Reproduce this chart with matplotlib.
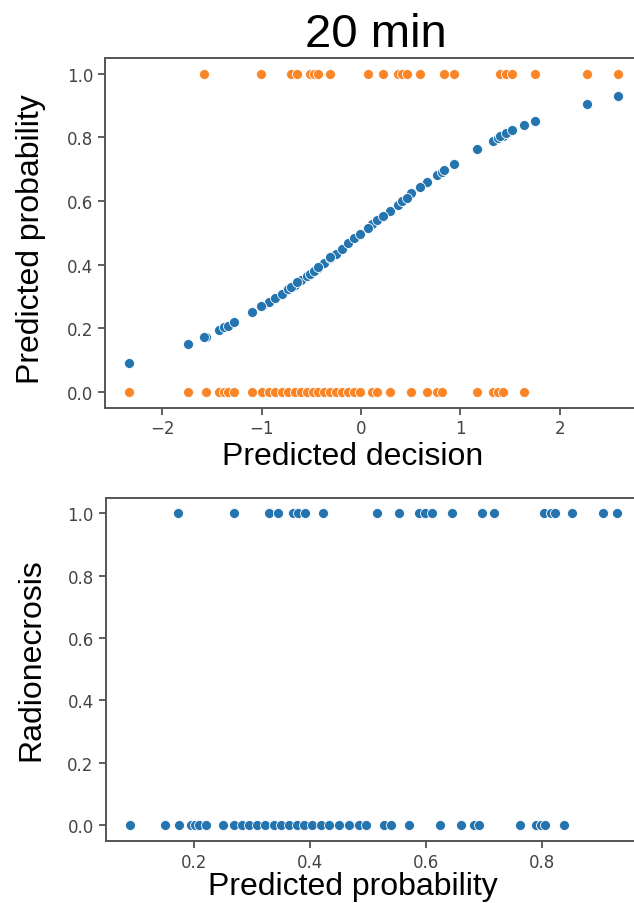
import matplotlib
matplotlib.use("Agg")
import matplotlib.pyplot as plt

# ---- data ----
# points with Radionecrosis = 0
decision_0 = [-2.33, -1.74, -1.56, -1.43, -1.38, -1.34, -1.28, -1.10, -1.00, -0.93,
              -0.87, -0.80, -0.73, -0.66, -0.60, -0.54, -0.48, -0.43, -0.37, -0.31,
              -0.25, -0.19, -0.13, -0.07, -0.01, 0.11, 0.16, 0.29, 0.50, 0.66,
              0.76, 0.81, 1.17, 1.33, 1.38, 1.43, 1.64]
prob_0 = [0.089, 0.150, 0.173, 0.194, 0.202, 0.208, 0.220, 0.249, 0.268, 0.283,
          0.295, 0.308, 0.322, 0.337, 0.350, 0.363, 0.377, 0.389, 0.404, 0.419,
          0.432, 0.450, 0.468, 0.484, 0.497, 0.528, 0.540, 0.570, 0.624, 0.660,
          0.683, 0.692, 0.763, 0.790, 0.798, 0.806, 0.838]
# points with Radionecrosis = 1
decision_1 = [-1.58, -1.01, -0.70, -0.64, -0.51, -0.47, -0.43, -0.31, 0.07, 0.22,
              0.37, 0.41, 0.46, 0.59, 0.83, 0.93, 1.40, 1.46, 1.52, 1.75, 2.27, 2.58]
prob_1 = [0.172, 0.268, 0.330, 0.344, 0.371, 0.380, 0.392, 0.423, 0.516, 0.553,
          0.588, 0.599, 0.610, 0.645, 0.697, 0.717, 0.804, 0.815, 0.823, 0.852,
          0.906, 0.930]

decision = decision_0 + decision_1
probability = prob_0 + prob_1
label = [0] * len(decision_0) + [1] * len(decision_1)

yticks = [0.0, 0.2, 0.4, 0.6, 0.8, 1.0]

W, H = 634, 904
fig = plt.figure(figsize=(W / 100, H / 100), dpi=100)

def frac(x0, y0, x1, y1):
    return [x0 / W, 1 - y1 / H, (x1 - x0) / W, (y1 - y0) / H]

blue = "#2474b0"
orange = "#fa8526"
mk = dict(s=52, edgecolors="white", linewidths=0.6, zorder=3)

ax1 = fig.add_axes(frac(105, 59, 642, 408.5))
ax1.scatter(decision, probability, color=blue, **mk)
ax1.scatter(decision, label, color=orange, **mk)
ax1.set_yticks(yticks)

ax2 = fig.add_axes(frac(105.5, 498.7, 641.5, 841.7))
ax2.scatter(probability, label, color=blue, **mk)
ax2.set_yticks(yticks)
ax2.set_xticks([0.2, 0.4, 0.6, 0.8])

for ax in (ax1, ax2):
    for sp in ax.spines.values():
        sp.set_color("#555555")
        sp.set_linewidth(1.4)
    ax.spines["right"].set_visible(False)
    ax.tick_params(labelsize=12, colors="#444444", length=5, width=1.2,
                   labelcolor="#444444")

font = ["Liberation Sans", "DejaVu Sans"]
fig.text(376 / W, 1 - 47 / H, "20 min", family=font, fontsize=34,
         ha="center", va="baseline")
fig.text(353 / W, 1 - 465 / H, "Predicted decision", family=font, fontsize=23,
         ha="center", va="baseline")
fig.text(353 / W, 1 - 895 / H, "Predicted probability", family=font, fontsize=23,
         ha="center", va="baseline")
fig.text(31 / W, 1 - 239 / H, "Predicted probability", family=font, fontsize=23,
         ha="center", va="center", rotation=90)
fig.text(31 / W, 1 - 660 / H, "Radionecrosis", family=font, fontsize=23,
         ha="center", va="center", rotation=90)

fig.savefig("out.png", dpi=100)
